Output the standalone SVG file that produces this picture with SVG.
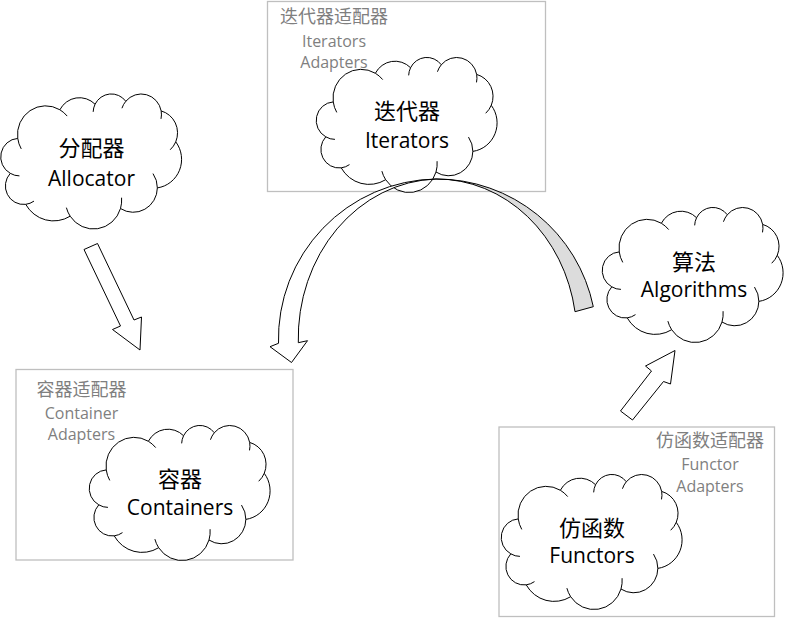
<svg xmlns="http://www.w3.org/2000/svg" xmlns:xlink="http://www.w3.org/1999/xlink" width="785" height="618" viewBox="0 0 785 618">
  <style>
    .box { fill: none; stroke: #bfbfbf; stroke-width: 1.3; }
    .cloud { fill: #ffffff; stroke: #000000; stroke-width: 1; }
    .curl { fill: none; stroke: #000000; stroke-width: 1; }
    .cn { font-family: "Noto Sans CJK SC", "Noto Sans", sans-serif; font-size: 22px; fill: #000000; text-anchor: middle; }
    .en { font-family: "Open Sans", "Noto Sans", sans-serif; font-size: 21px; fill: #000000; text-anchor: middle; }
    .gcn { font-family: "Noto Sans CJK SC", "Noto Sans", sans-serif; font-size: 18px; fill: #7f7f7f; text-anchor: middle; }
    .gen { font-family: "Open Sans", "Noto Sans", sans-serif; font-size: 16px; fill: #7f7f7f; text-anchor: middle; }
    .arrow { fill: #ffffff; stroke: #000000; stroke-width: 1; stroke-linejoin: miter; }
    .arrowback { fill: #dcdcdc; stroke: #000000; stroke-width: 1; }
  </style>
  <defs>
    <path id="cloudShape" d="M16.25,44.91 A28.14,28.72 0 0,1 58.36,16.26 A22.22,22.71 0 0,1 93.57,10.73 A18.19,18.58 0 0,1 124.31,7.76 A20.24,20.61 0 0,1 159.66,17.43 A22.22,22.73 0 0,1 174.25,48.32 A28.23,28.81 0 0,1 155.85,94.39 A24.10,24.58 0 0,1 118.99,115.04 A28.13,28.80 0 0,1 68.67,122.71 A32.17,32.95 0 0,1 24.19,110.84 A18.17,18.49 0 0,1 8.80,79.84 A18.10,18.58 0 0,1 16.25,44.91 Z"/>
    <path id="cloudCurls" d="M19.76,55.4 A28.14,28.72 0 0,1 16.25,44.91 M58.36,16.26 A28.14,28.72 0 0,1 65.69,22.58 M91.66,18.37 A18.19,18.58 0 0,1 93.57,10.73 M120.45,14.73 A20.24,20.61 0 0,1 124.31,7.76 M159.66,17.43 A20.24,20.61 0 0,1 159.5,25.39 M174.25,48.32 A22.22,22.73 0 0,1 168.7,56.25 M151.49,80.09 A24.1,24.58 0 0,1 155.85,94.39 M120.08,104.19 A28.13,28.8 0 0,1 118.99,115.04 M68.67,122.71 A28.13,28.8 0 0,1 64.89,114.15 M32.49,107.62 A18.17,18.49 0 0,1 24.19,110.84 M17.95,82.39 A18.1,18.58 0 0,1 8.8,79.84"/>
  </defs>

  <g id="iterator-adapters">
    <rect class="box" x="267.5" y="1.5" width="278" height="190"/>
    <text class="gcn" x="334" y="23">迭代器适配器</text>
    <text class="gen" x="334" y="46.5">Iterators</text>
    <text class="gen" x="334" y="68">Adapters</text>
  </g>
  <g id="container-adapters">
    <rect class="box" x="16" y="369.5" width="277" height="190.5"/>
    <text class="gcn" x="81.5" y="396">容器适配器</text>
    <text class="gen" x="81.5" y="419">Container</text>
    <text class="gen" x="81.5" y="440">Adapters</text>
  </g>
  <g id="functor-adapters">
    <rect class="box" x="499" y="427" width="275.5" height="189.5"/>
    <text class="gcn" x="710" y="446.5">仿函数适配器</text>
    <text class="gen" x="710" y="470">Functor</text>
    <text class="gen" x="710" y="491.5">Adapters</text>
  </g>

  <g id="allocator">
    <g transform="translate(1.5,93.5)">
      <use xlink:href="#cloudShape" class="cloud"/>
      <use xlink:href="#cloudCurls" class="curl"/>
    </g>
    <text class="cn" x="91.5" y="156">分配器</text>
    <text class="en" x="91.5" y="186">Allocator</text>
  </g>
  <g id="iterators">
    <g transform="translate(317,57)">
      <use xlink:href="#cloudShape" class="cloud"/>
      <use xlink:href="#cloudCurls" class="curl"/>
    </g>
    <text class="cn" x="407" y="118.5">迭代器</text>
    <text class="en" x="407" y="148">Iterators</text>
  </g>
  <g id="algorithms">
    <g transform="translate(603,207)">
      <use xlink:href="#cloudShape" class="cloud"/>
      <use xlink:href="#cloudCurls" class="curl"/>
    </g>
    <text class="cn" x="694" y="269.5">算法</text>
    <text class="en" x="694" y="296.5">Algorithms</text>
  </g>
  <g id="containers">
    <g transform="translate(90,425)">
      <use xlink:href="#cloudShape" class="cloud"/>
      <use xlink:href="#cloudCurls" class="curl"/>
    </g>
    <text class="cn" x="180" y="486.5">容器</text>
    <text class="en" x="180" y="515">Containers</text>
  </g>
  <g id="functors">
    <g transform="translate(502,474)">
      <use xlink:href="#cloudShape" class="cloud"/>
      <use xlink:href="#cloudCurls" class="curl"/>
    </g>
    <text class="cn" x="592" y="536">仿函数</text>
    <text class="en" x="592" y="563">Functors</text>
  </g>

  <g id="connectors">
    <polygon class="arrow" points="84,249.5 97.5,243.5 134,320 141.5,317 140,350 112.5,329.5 120.5,326"/>
    <polygon class="arrow" points="620.5,411 651.5,371 645.5,366 675,350.5 670.5,384 663.5,381.5 632.5,420"/>
    <path class="arrowback" d="M593.3,306.7 A160,160 0 0,0 436,179 A140,157 0 0,1 575,311.7 Z"/>
    <path class="arrow" d="M436,179 A160,160 0 0,0 278.5,343.3 L270,346.7 L291.5,362.5 L307.5,340.7 L298.3,342.7 A142,159.5 0 0,1 436,179 Z"/>
  </g>
</svg>
